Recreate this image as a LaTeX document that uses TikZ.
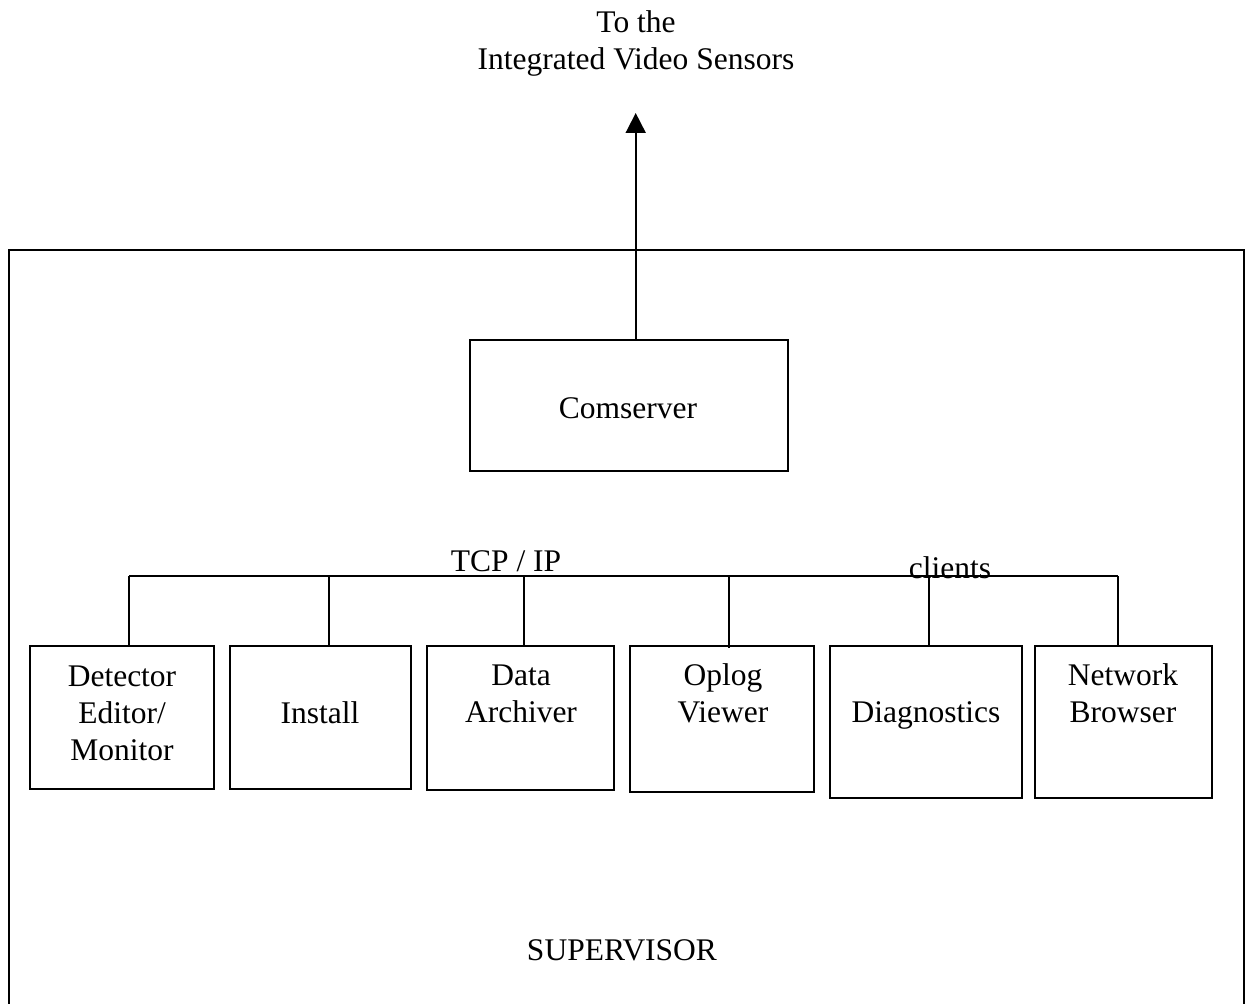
\documentclass[tikz,border=0pt]{standalone}
\usepackage{fontspec}
\setmainfont{Liberation Serif}
\usetikzlibrary{arrows.meta}
\tikzset{
  x=1pt, y=-1pt,
  ln/.style={line width=1.8pt, black},
  box/.style={draw, line width=1.8pt, inner sep=0pt, minimum width=#1},
  txt/.style={inner sep=0pt, anchor=base, align=center, font=\fontsize{31.5}{37}\selectfont},
}
\begin{document}
\begin{tikzpicture}
\useasboundingbox (0,0) rectangle (1246,1003);
% outer supervisor box (bottom edge beyond page)
\draw[ln] (9,1010) -- (9,250) -- (1244,250) -- (1244,1010);

% top text (base = last line)
\node[txt] (dest) at (636,70) {To the\\Integrated Video Sensors};

% comserver
\node[box=318, minimum height=131] (com) at (629,405.5) {};
\node[txt] (comt) at (628,418) {Comserver};
\coordinate (tip) at (635.7,113);
\draw[ln, -{Triangle[width=20pt,length=20pt]}] (com.north -| tip) -- (tip);

% client boxes
\node[box=184, minimum height=143] (b1) at (122,717.5) {};
\node[box=181, minimum height=143] (b2) at (320.5,717.5) {};
\node[box=187, minimum height=144] (b3) at (520.5,718) {};
\node[box=184, minimum height=146] (b4) at (722,719) {};
\node[box=192, minimum height=152] (b5) at (926,722) {};
\node[box=177, minimum height=152] (b6) at (1123.5,722) {};

\node[txt] (t1) at (122,760) {Detector\\Editor/\\Monitor};
\node[txt] (t2) at (320,723) {Install};
\node[txt] (t3) at (521,722) {Data\\Archiver};
\node[txt] (t4) at (723,722) {Oplog\\Viewer};
\node[txt] (t5) at (926,722) {Diagnostics};
\node[txt] (t6) at (1123,722) {Network\\Browser};

% bus
\coordinate (d1) at (129,576);
\coordinate (d2) at (329,576);
\coordinate (d3) at (523.7,576);
\coordinate (d4) at (729,577);
\coordinate (d5) at (929,576);
\coordinate (d6) at (1118,576);
\draw[ln] (d1) -- (d6);
\draw[ln] (d1) -- (d1 |- b1.north);
\draw[ln] (d2) -- (d2 |- b2.north);
\draw[ln] (d3) -- (d3 |- b3.north);
\coordinate (e4) at (729,648);
\draw[ln] (d4) -- (e4);
\draw[ln] (d5) -- (d5 |- b5.north);
\draw[ln] (d6) -- (d6 |- b6.north);

\node[txt] (tcp) at (506,571) {TCP / IP};
\node[txt] (cl) at (950,578) {clients};

\node[txt] (sup) at (622,960) {SUPERVISOR};
\end{tikzpicture}
\end{document}
